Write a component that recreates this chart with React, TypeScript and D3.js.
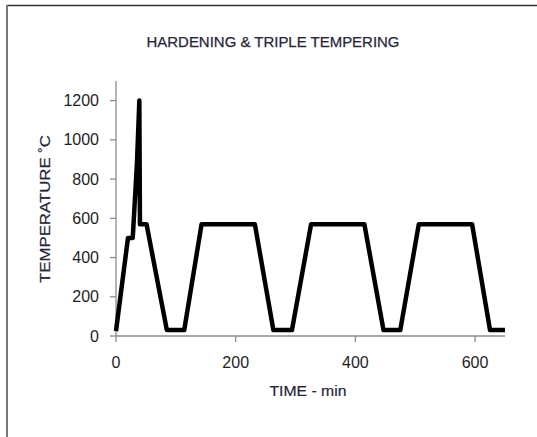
import React from "react";
import * as d3 from "d3";

// time (min) vs temperature (°C)
const timeMin = [0, 20, 28, 35, 39, 40, 51, 85, 114, 143, 232, 263, 294, 326, 415, 447, 475, 506, 595, 625, 650];
const tempC = [25, 500, 500, 880, 1200, 570, 570, 30, 30, 570, 570, 30, 30, 570, 570, 30, 30, 570, 570, 30, 30];
const xTicks = [0, 200, 400, 600];
const yTicks = [0, 200, 400, 600, 800, 1000, 1200];

const W = 537;
const H = 437;
const margin = { left: 116, right: 32, top: 81, bottom: 101 };

export default function App() {
  const x = d3.scaleLinear().domain([0, 650]).range([margin.left, W - margin.right]);
  const y = d3.scaleLinear().domain([0, 1300]).range([H - margin.bottom, margin.top]);

  const pts: [number, number][] = timeMin.map((t, i) => [t, tempC[i]]);
  const line = d3
    .line<[number, number]>()
    .x((d) => x(d[0]))
    .y((d) => y(d[1]));

  const font = "'Liberation Sans', Arial, sans-serif";
  const axisColor = "#8c8c8c";
  const titleColor = "#262638";
  const y0 = y(0);

  return (
    <svg
      width={W}
      height={H}
      style={{ position: "absolute", left: 0, top: 0, background: "#fff" }}
    >
      {/* chart frame */}
      <line x1={7} y1={5.5} x2={W} y2={5.5} stroke="#333" strokeWidth={1.5} />
      <line x1={7} y1={5} x2={7} y2={H} stroke="#777" strokeWidth={2} />

      <text
        x={273}
        y={47}
        textAnchor="middle"
        fontFamily={font}
        fontSize={15}
        fill={titleColor}
        stroke={titleColor}
        strokeWidth={0.25}
        textLength={253}
        lengthAdjust="spacingAndGlyphs"
      >
        HARDENING &amp; TRIPLE TEMPERING
      </text>

      {/* y axis */}
      <line x1={x(0)} y1={y0} x2={x(0)} y2={margin.top} stroke={axisColor} strokeWidth={1.3} />
      {yTicks.map((t) => (
        <g key={"y" + t}>
          <line x1={x(0) - 6} x2={x(0)} y1={y(t)} y2={y(t)} stroke={axisColor} strokeWidth={1.3} />
          <text
            x={99}
            y={y(t)}
            dy="0.35em"
            textAnchor="end"
            fontFamily={font}
            fontSize={16}
            fill="#1e1e1e"
          >
            {t}
          </text>
        </g>
      ))}

      {/* x axis */}
      <line x1={x(0)} y1={y0} x2={x(650)} y2={y0} stroke={axisColor} strokeWidth={1.3} />
      {xTicks.map((t) => (
        <g key={"x" + t}>
          <line x1={x(t)} x2={x(t)} y1={y0} y2={y0 + 6} stroke={axisColor} strokeWidth={1.3} />
          <text x={x(t)} y={368} textAnchor="middle" fontFamily={font} fontSize={16} fill="#1e1e1e">
            {t}
          </text>
        </g>
      ))}

      <text
        x={308}
        y={396}
        textAnchor="middle"
        fontFamily={font}
        fontSize={15}
        fill={titleColor}
        stroke={titleColor}
        strokeWidth={0.2}
        textLength={77}
        lengthAdjust="spacingAndGlyphs"
      >
        TIME - min
      </text>

      <text
        transform={`translate(50,209) rotate(-90)`}
        textAnchor="middle"
        fontFamily={font}
        fontSize={15}
        fill={titleColor}
        stroke={titleColor}
        strokeWidth={0.2}
        textLength={148}
        lengthAdjust="spacingAndGlyphs"
      >
        TEMPERATURE ˚C
      </text>

      <path
        d={line(pts) || ""}
        fill="none"
        stroke="#000"
        strokeWidth={4.5}
        strokeLinejoin="round"
      />
    </svg>
  );
}
